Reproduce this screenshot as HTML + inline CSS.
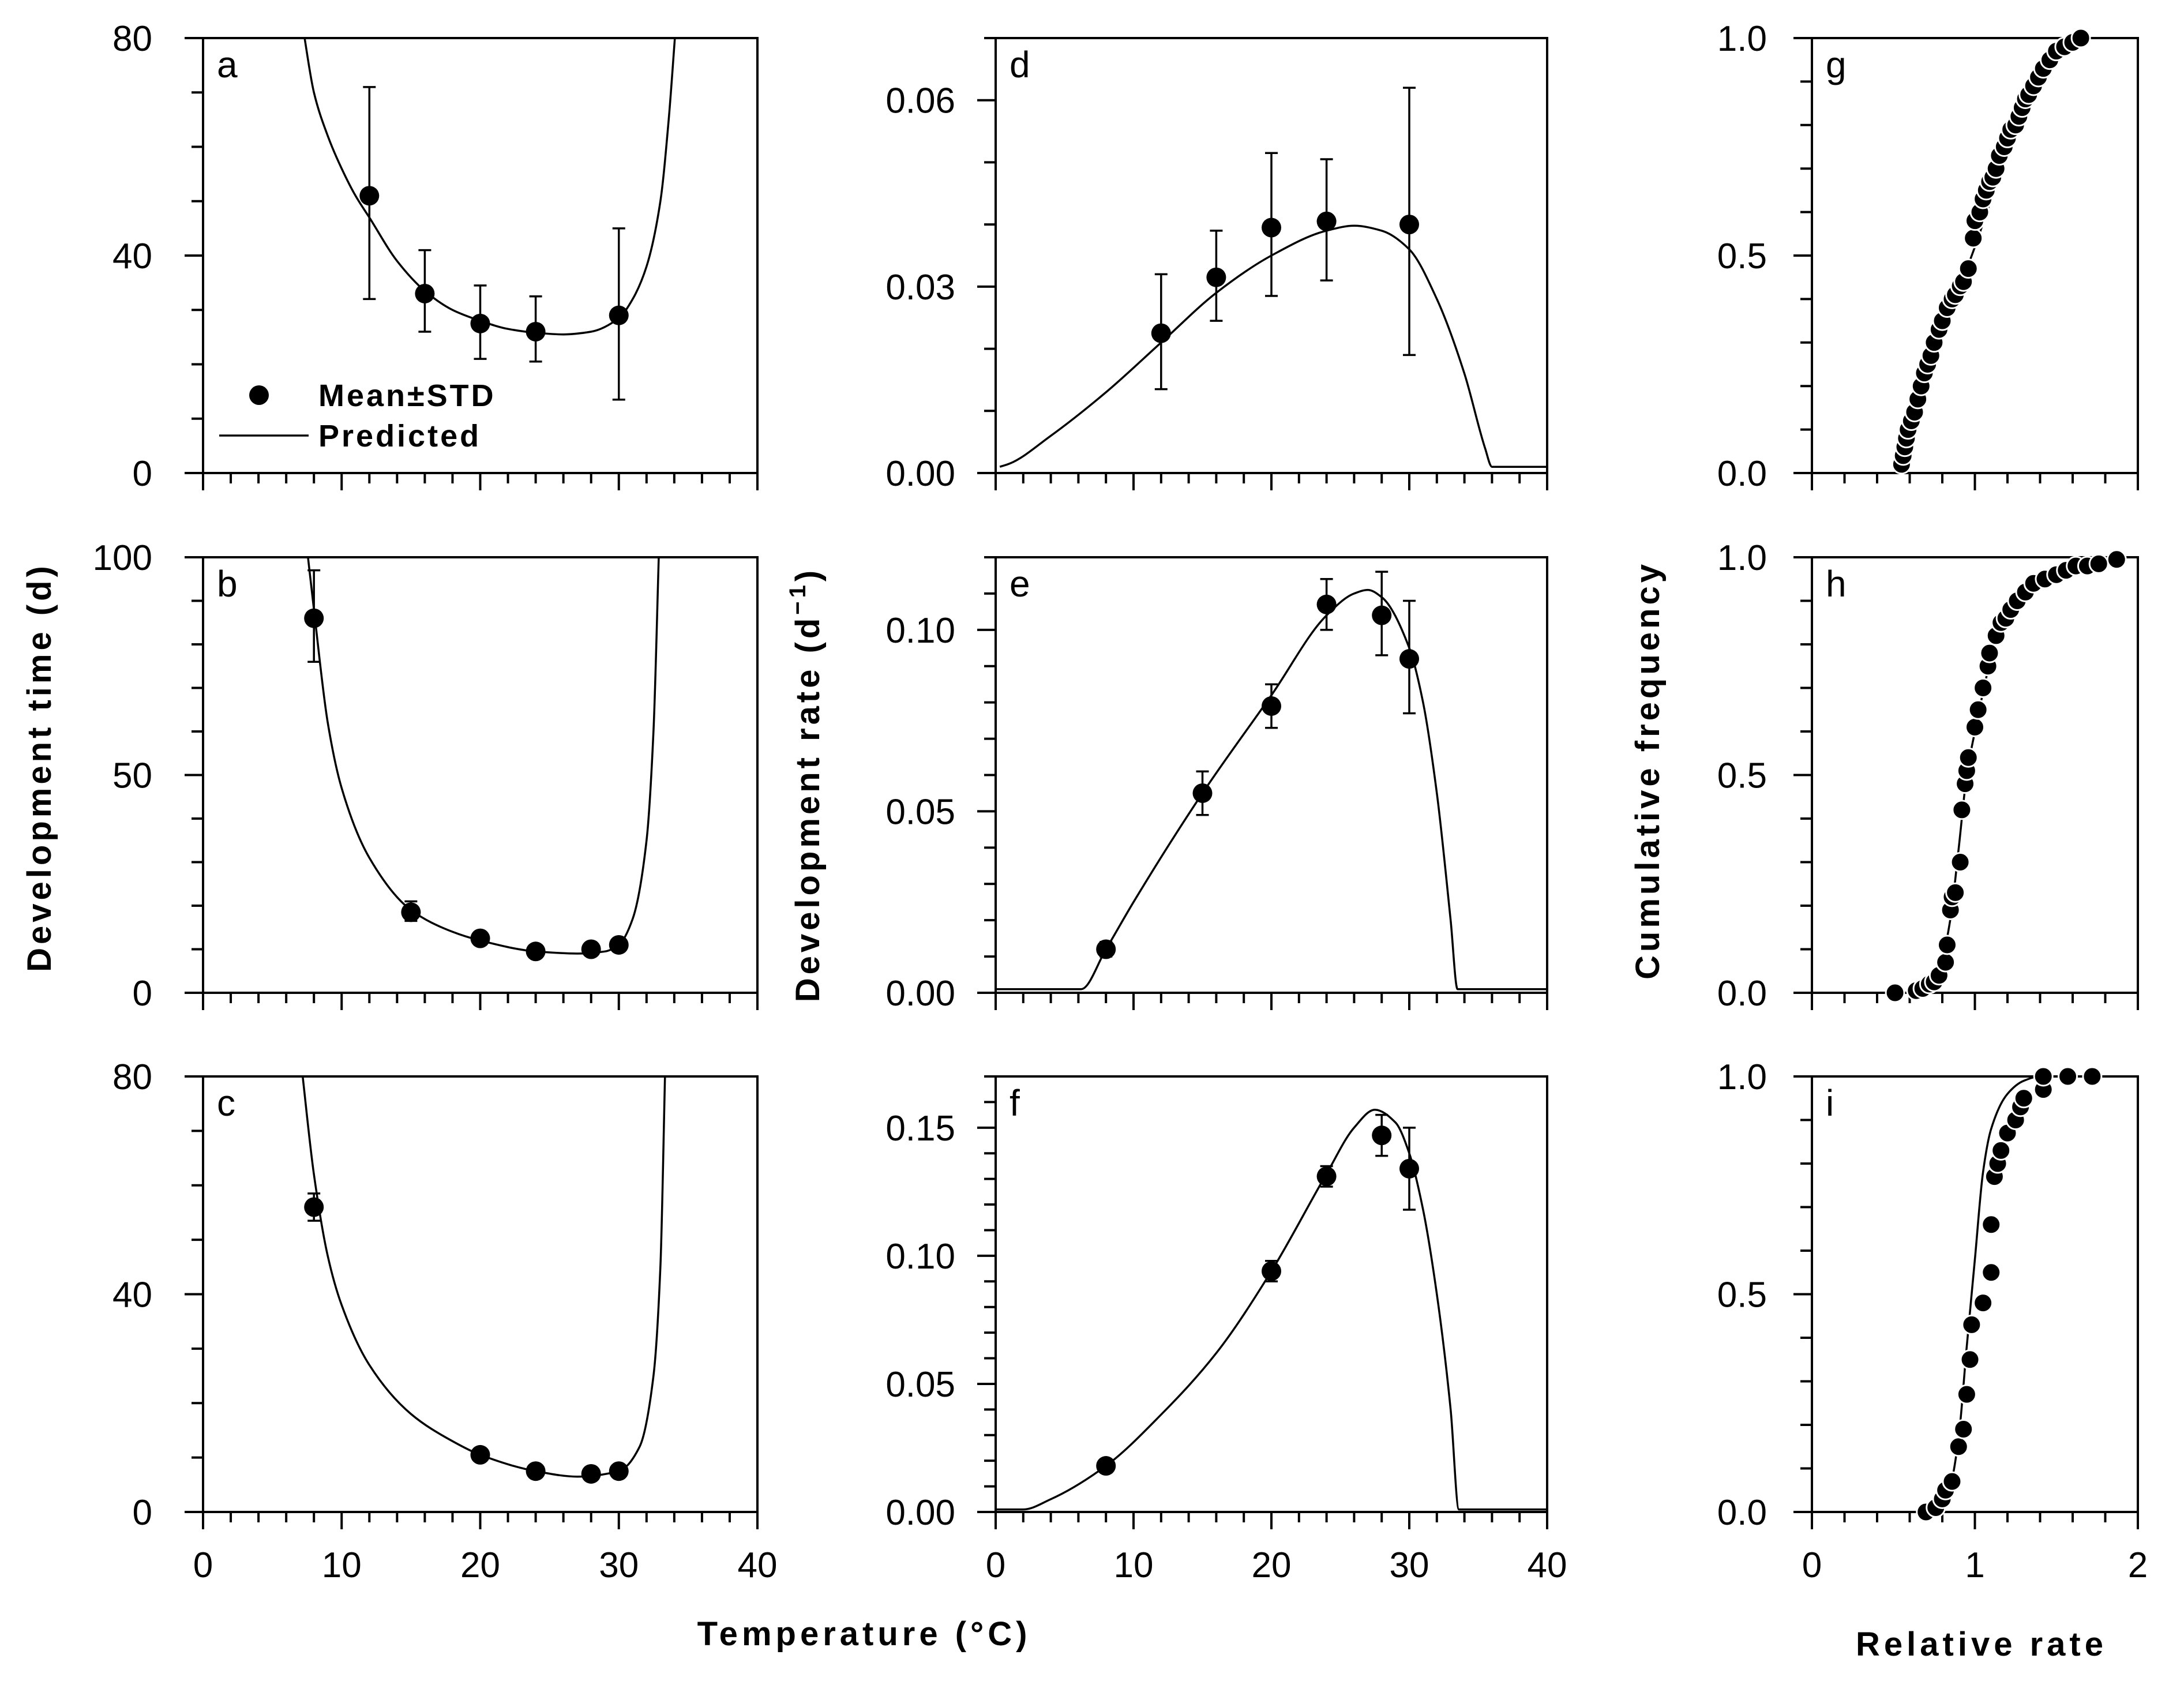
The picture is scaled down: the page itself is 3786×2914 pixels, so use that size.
<!DOCTYPE html>
<html><head><meta charset="utf-8">
<style>
html,body{margin:0;padding:0;background:#fff;}
svg{display:block;}
text{font-family:"Liberation Sans","DejaVu Sans",sans-serif;fill:#000;}
</style></head>
<body>
<svg id="fig" width="3786" height="2914" viewBox="0 0 3786 2914" xmlns="http://www.w3.org/2000/svg">
<text transform="translate(88,1330) rotate(-90)" text-anchor="middle" font-size="58" font-weight="bold" letter-spacing="6">Development time (d)</text>
<text transform="translate(1420,1360) rotate(-90)" text-anchor="middle" font-size="58" font-weight="bold" letter-spacing="6">Development rate (d<tspan dy="-24" font-size="40">−1</tspan><tspan dy="24">)</tspan></text>
<text transform="translate(2876,1335) rotate(-90)" text-anchor="middle" font-size="58" font-weight="bold" letter-spacing="6">Cumulative frequency</text>
<text x="1498" y="2852" text-anchor="middle" font-size="58" font-weight="bold" letter-spacing="7">Temperature (°C)</text>
<text x="3435" y="2870" text-anchor="middle" font-size="58" font-weight="bold" letter-spacing="7">Relative rate</text>
</svg>
<script>
// ---- Panel a: development time ----
const aTemp=[12,16,20,24,30];
const aMean=[51,33,27.5,26,29];
const aLow=[32,26,21,20.5,13.5];
const aHigh=[71,41,34.5,32.5,45];
const aCurveT=[7.2,8,9,10,11,12,14,16,18,20,22,24,26,28,30,31,32,33,33.6,34.1];
const aCurveV=[82,70,62,56,51,47,39,33.5,30,28,26.5,25.8,25.5,26,28.5,32,38,50,65,82];
// ---- Panel b ----
const bTemp=[8,15,20,24,28,30];
const bMean=[86,18.5,12.5,9.5,10,11];
const bLow=[76,16.5,11,8.5,9,9.5];
const bHigh=[97,21,14,10.5,11,12.5];
const bCurveT=[7.5,8,9,10,12,15,18,20,24,27,29,30,31,32,32.5,32.9];
const bCurveV=[102,88,62,47,31,19,14,12,9.5,9,9.5,11,17,35,60,102];
// ---- Panel c ----
const cTemp=[8,20,24,28,30];
const cMean=[56,10.5,7.5,7,7.5];
const cLow=[53.5,9.5,6.5,6,6.5];
const cHigh=[58.5,11.5,8.5,8,8.5];
const cCurveT=[7.1,8,9,10,12,15,18,20,24,27,30,31.5,32.5,33,33.35];
const cCurveV=[82,62,47,38,27,18,13,10.5,7.5,6.5,7.5,12,25,45,82];
// ---- Panel d: development rate ----
const dTemp=[12,16,20,24,30];
const dMean=[0.0225,0.0315,0.0395,0.0405,0.040];
const dLow=[0.0135,0.0245,0.0285,0.031,0.019];
const dHigh=[0.032,0.039,0.0515,0.0505,0.062];
const dCurveT=[0.3,1,4,8,12,16,20,24,26,28,30,32,34,35.5,36,40];
const dCurveV=[0.001,0.0015,0.006,0.013,0.021,0.029,0.035,0.039,0.0398,0.039,0.036,0.028,0.016,0.004,0.001,0.001];
// ---- Panel e ----
const eTemp=[8,15,20,24,28,30];
const eMean=[0.012,0.055,0.079,0.107,0.104,0.092];
const eLow=[0.010,0.049,0.073,0.100,0.093,0.077];
const eHigh=[0.014,0.061,0.085,0.114,0.116,0.108];
const eCurveT=[0,6.2,8,10,15,20,24,26,27,28,30,31,32,33,33.5,40];
const eCurveV=[0.001,0.001,0.012,0.025,0.055,0.082,0.104,0.110,0.111,0.109,0.095,0.080,0.055,0.020,0.001,0.001];
// ---- Panel f ----
const fTemp=[8,20,24,28,30];
const fMean=[0.018,0.094,0.131,0.147,0.134];
const fLow=[0.016,0.090,0.127,0.139,0.118];
const fHigh=[0.020,0.098,0.135,0.155,0.150];
const fCurveT=[0,2,4,8,12,16,20,24,26,27.5,29,30,31,32,33,33.6,40];
const fCurveV=[0.001,0.001,0.005,0.018,0.038,0.062,0.094,0.132,0.150,0.157,0.152,0.140,0.118,0.085,0.040,0.001,0.001];
// ---- Panel g: cumulative frequency ----
const gRate=[0.55,0.56,0.57,0.58,0.59,0.61,0.63,0.65,0.67,0.69,0.71,0.73,0.75,0.78,0.80,0.83,0.86,0.88,0.91,0.93,0.96,0.99,1.00,1.03,1.05,1.07,1.09,1.11,1.13,1.15,1.18,1.20,1.22,1.25,1.27,1.29,1.31,1.33,1.36,1.39,1.42,1.46,1.50,1.55,1.60,1.65];
const gFreq=[0.02,0.04,0.06,0.08,0.10,0.12,0.14,0.17,0.20,0.23,0.25,0.27,0.30,0.33,0.35,0.38,0.40,0.41,0.43,0.44,0.47,0.54,0.58,0.60,0.63,0.65,0.67,0.68,0.70,0.73,0.75,0.77,0.79,0.80,0.82,0.84,0.86,0.87,0.89,0.91,0.93,0.95,0.97,0.98,0.99,1.0];
const gCurveX=[0.53,0.6,0.7,0.8,0.9,1.0,1.1,1.2,1.3,1.4,1.5,1.6,1.65];
const gCurveY=[0,0.07,0.2,0.32,0.42,0.52,0.63,0.74,0.83,0.9,0.95,0.98,0.995];
// ---- Panel h ----
const hRate=[0.51,0.64,0.68,0.72,0.75,0.78,0.82,0.83,0.85,0.86,0.88,0.91,0.92,0.94,0.95,0.96,1.00,1.02,1.05,1.08,1.09,1.13,1.16,1.19,1.22,1.26,1.31,1.36,1.43,1.50,1.56,1.62,1.69,1.76,1.87];
const hFreq=[0,0.005,0.01,0.02,0.025,0.04,0.07,0.11,0.19,0.22,0.23,0.30,0.42,0.48,0.51,0.54,0.61,0.65,0.70,0.75,0.78,0.82,0.85,0.86,0.88,0.90,0.92,0.94,0.95,0.96,0.97,0.98,0.98,0.985,0.995];
const hCurveX=[0.6,0.7,0.78,0.85,0.9,0.95,1.0,1.05,1.1,1.2,1.3,1.45,1.6,1.75];
const hCurveY=[0,0.01,0.05,0.17,0.33,0.5,0.6,0.69,0.77,0.87,0.93,0.97,0.99,1.0];
// ---- Panel i ----
const iRate=[0.70,0.76,0.80,0.82,0.86,0.90,0.93,0.95,0.97,0.98,1.05,1.10,1.10,1.12,1.14,1.16,1.20,1.25,1.28,1.30,1.42,1.42,1.57,1.72];
const iFreq=[0,0.01,0.03,0.05,0.07,0.15,0.19,0.27,0.35,0.43,0.48,0.55,0.66,0.77,0.80,0.83,0.87,0.90,0.93,0.95,0.97,1.0,1.0,1.0];
const iCurveX=[0.7,0.8,0.85,0.9,0.95,1.0,1.05,1.1,1.2,1.3,1.4,1.7];
const iCurveY=[0,0.02,0.06,0.17,0.38,0.58,0.78,0.88,0.96,0.99,1.0,1.0];

const NS="http://www.w3.org/2000/svg";
const svg=document.getElementById('fig');
function mk(tag,attrs,parent){const e=document.createElementNS(NS,tag);for(const k in attrs)e.setAttribute(k,attrs[k]);(parent||svg).appendChild(e);return e;}

const cols=[[352,1313],[1726,2682],[3141,3706]];
const rows=[[66,820],[966,1721],[1866,2621]];

function fmt(v,dec){return v.toFixed(dec);}

// monotone cubic (Fritsch-Carlson) in pixel space, x increasing
function monotone(pts){
  const n=pts.length;const dx=[],dy=[],m=[];
  for(let i=0;i<n-1;i++){dx.push(pts[i+1][0]-pts[i][0]);dy.push(pts[i+1][1]-pts[i][1]);m.push(dy[i]/dx[i]);}
  const t=[m[0]];
  for(let i=1;i<n-1;i++){
    if(m[i-1]*m[i]<=0)t.push(0);
    else{const w1=2*dx[i]+dx[i-1],w2=dx[i]+2*dx[i-1];t.push((w1+w2)/(w1/m[i-1]+w2/m[i]));}
  }
  t.push(m[n-2]);
  let d='M'+pts[0][0].toFixed(1)+','+pts[0][1].toFixed(1);
  for(let i=0;i<n-1;i++){
    const h=dx[i]/3;
    d+=' C'+(pts[i][0]+h).toFixed(1)+','+(pts[i][1]+t[i]*h).toFixed(1)+' '+(pts[i+1][0]-h).toFixed(1)+','+(pts[i+1][1]-t[i+1]*h).toFixed(1)+' '+pts[i+1][0].toFixed(1)+','+pts[i+1][1].toFixed(1);
  }
  return d;
}

function panel(o){
  const [x0,x1]=cols[o.col],[y0,y1]=rows[o.row];
  const g=mk('g',{});
  
  
  const sx=v=>x0+(v-o.xmin)/(o.xmax-o.xmin)*(x1-x0);
  const sy=v=>y1-(v-o.ymin)/(o.ymax-o.ymin)*(y1-y0);
  const cid='clip-'+o.letter;
  const cp=mk('clipPath',{id:cid},g);
  mk('rect',{x:x0,y:y0-2,width:x1-x0,height:y1-y0+4},cp);
  const ny=Math.round((o.ymax-o.ymin)/o.yminor);
  for(let k=0;k<=ny;k++){
    const v=o.ymin+k*o.yminor;const y=sy(v);
    const isMajor=Math.abs(((v-o.ymin)/o.ymajor)-Math.round((v-o.ymin)/o.ymajor))<1e-6;
    const t=mk('line',{x1:x0-(isMajor?32:20),x2:x0,y1:y,y2:y,stroke:'#000','stroke-width':4},g);
    
    
    if(isMajor){
      const lb=mk('text',{x:x0-o.lblgap,y:y+22,'text-anchor':'end','font-size':62},g);
      
      
      lb.textContent=fmt(v,o.ydec);
    }
  }
  const nx=Math.round((o.xmax-o.xmin)/o.xminor);
  for(let k=0;k<=nx;k++){
    const v=o.xmin+k*o.xminor;const x=sx(v);
    const isMajor=Math.abs(((v-o.xmin)/o.xmajor)-Math.round((v-o.xmin)/o.xmajor))<1e-6;
    const t=mk('line',{x1:x,x2:x,y1:y1,y2:y1+(isMajor?30:18),stroke:'#000','stroke-width':4},g);
    
    
    if(isMajor&&o.row===2){
      const lb=mk('text',{x:x,y:2734,'text-anchor':'middle','font-size':62},g);
      
      
      lb.textContent=fmt(v,0);
    }
  }
  const fr=mk('rect',{x:x0,y:y0,width:x1-x0,height:y1-y0,fill:'none',stroke:'#000','stroke-width':4},g);
  
  
  const pl=mk('text',{x:x0+24,y:y0+68,'font-size':64},g);
  
  
  pl.textContent=o.letter;
  const pts=o.cx.map((v,i)=>[sx(v),sy(o.cy[i])]);
  const cv=mk('path',{d:monotone(pts),fill:'none',stroke:'#000','stroke-width':3.5,'clip-path':'url(#'+cid+')'},g);
  
  
  if(o.lo){
    o.px.forEach((v,i)=>{
      const x=sx(v);
      const eb=mk('path',{d:'M'+x+','+sy(o.lo[i])+'V'+sy(o.hi[i])+'M'+(x-11)+','+sy(o.lo[i])+'h22M'+(x-11)+','+sy(o.hi[i])+'h22',stroke:'#000','stroke-width':3.5,fill:'none'},g);
      
      
    });
  }
  o.px.forEach((v,i)=>{
    const c=mk('circle',{cx:sx(v),cy:sy(o.py[i]),r:o.r||17,fill:'#000',stroke:o.outline?'#fff':'none','stroke-width':o.outline?3:0},g);
    
    
  });
  return g;
}

const T={xmin:0,xmax:40,xmajor:10,xminor:2,lblgap:88};
panel(Object.assign({},T,{letter:'a',col:0,row:0,ymin:0,ymax:80,ymajor:40,yminor:10,ydec:0,px:aTemp,py:aMean,lo:aLow,hi:aHigh,cx:aCurveT,cy:aCurveV}));
panel(Object.assign({},T,{letter:'b',col:0,row:1,ymin:0,ymax:100,ymajor:50,yminor:10,ydec:0,px:bTemp,py:bMean,lo:bLow,hi:bHigh,cx:bCurveT,cy:bCurveV}));
panel(Object.assign({},T,{letter:'c',col:0,row:2,ymin:0,ymax:80,ymajor:40,yminor:10,ydec:0,px:cTemp,py:cMean,lo:cLow,hi:cHigh,cx:cCurveT,cy:cCurveV}));
const T2=Object.assign({},T,{col:1,lblgap:70});
panel(Object.assign({},T2,{letter:'d',row:0,ymin:0,ymax:0.07,ymajor:0.03,yminor:0.01,ydec:2,px:dTemp,py:dMean,lo:dLow,hi:dHigh,cx:dCurveT,cy:dCurveV}));
panel(Object.assign({},T2,{letter:'e',row:1,ymin:0,ymax:0.12,ymajor:0.05,yminor:0.01,ydec:2,px:eTemp,py:eMean,lo:eLow,hi:eHigh,cx:eCurveT,cy:eCurveV}));
panel(Object.assign({},T2,{letter:'f',row:2,ymin:0,ymax:0.17,ymajor:0.05,yminor:0.01,ydec:2,px:fTemp,py:fMean,lo:fLow,hi:fHigh,cx:fCurveT,cy:fCurveV}));
const R={col:2,xmin:0,xmax:2,xmajor:1,xminor:0.2,ymin:0,ymax:1,ymajor:0.5,yminor:0.1,ydec:1,lblgap:78,outline:true,r:16};
panel(Object.assign({},R,{letter:'g',row:0,px:gRate,py:gFreq,cx:gCurveX,cy:gCurveY}));
panel(Object.assign({},R,{letter:'h',row:1,px:hRate,py:hFreq,cx:hCurveX,cy:hCurveY}));
panel(Object.assign({},R,{letter:'i',row:2,px:iRate,py:iFreq,cx:iCurveX,cy:iCurveY}));

const lg=mk('g',{});


const ld=mk('circle',{cx:449,cy:685,r:17,fill:'#000'},lg);


const lt1=mk('text',{x:552,y:704,'font-size':54,'font-weight':'bold','letter-spacing':4},lg);


lt1.textContent='Mean±STD';
const ll=mk('line',{x1:380,x2:535,y1:755,y2:755,stroke:'#000','stroke-width':3.5},lg);


const lt2=mk('text',{x:552,y:774,'font-size':54,'font-weight':'bold','letter-spacing':4},lg);


lt2.textContent='Predicted';
</script>
</body></html>
